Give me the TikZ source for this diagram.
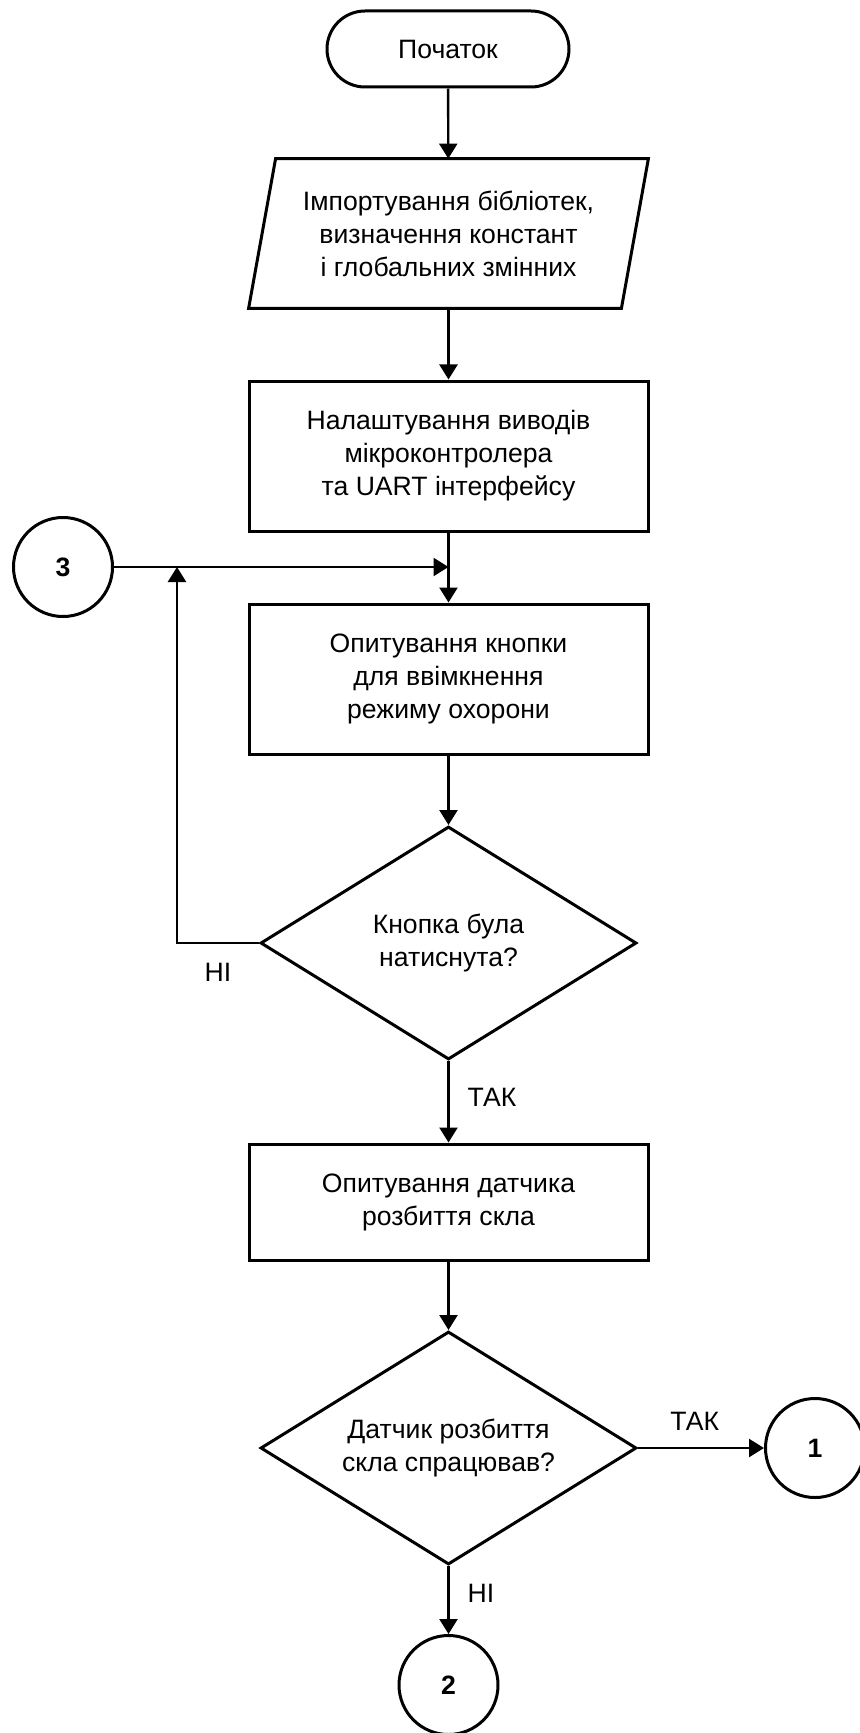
\documentclass[tikz,border=0pt]{standalone}
\usepackage{fontspec}
\setmainfont{Liberation Sans}
\usetikzlibrary{calc,shapes,arrows.meta}

\begin{document}
\begin{tikzpicture}[x=0.5pt,y=-0.5pt,
			>={Triangle[length=7.5pt,width=9pt]},
			every node/.style={font=\fontsize{13.3}{16.5}\selectfont},
			term/.style={rounded rectangle, draw, line width=1.5pt, minimum width=121pt, minimum height=38pt, inner sep=0pt},
			proc/.style={rectangle, draw, line width=1.5pt, minimum width=199.5pt, minimum height=75pt, align=center, inner sep=0pt},
			io/.style={rectangle, minimum width=199.5pt, minimum height=74.5pt, align=center, inner sep=0pt},
			dec/.style={diamond, draw, line width=1.5pt, minimum width=188pt, minimum height=116.5pt, align=center, inner sep=-15pt},
			conn/.style={circle, draw, line width=1.5pt, minimum size=49.5pt, inner sep=0pt, font=\fontsize{13.3}{15}\selectfont\bfseries},
			flow/.style={->, line width=1.2pt},
			lab/.style={inner sep=0pt}
				]
			\def\skew{13.5pt}
			\useasboundingbox (0,0) rectangle (859,1733);

			\node[term] (start) at (448,49) {Початок};
			\node[io] (libs) at (448.5,233.5) {Імпортування бібліотек,\\визначення констант\\і глобальних змінних};
			\draw[line width=1.5pt] ([xshift=\skew]libs.north west) -- (libs.north east) -- ([xshift=-\skew]libs.south east) -- (libs.south west) -- cycle;
			\node[proc] (pins) at (448.5,456) {Налаштування виводів\\мікроконтролера\\та UART інтерфейсу};
			\node[proc] (btn) at (448.5,679) {Опитування кнопки\\для ввімкнення\\режиму охорони};
			\node[dec] (qbtn) at (448.5,943) {Кнопка була\\натиснута?};
			\node[proc, minimum height=58pt] (glass) at (448.5,1202) {Опитування датчика\\розбиття скла};
			\node[dec] (qglass) at (448.5,1448) {Датчик розбиття\\скла спрацював?};

			\node[conn] (c3) at (63,567) {3};
			\node[conn] (c1) at (815,1448) {1};
			\node[conn] (c2) at (448.5,1685) {2};

			%top
			\draw[flow] (start) -- (libs);
			\draw[flow] (libs) -- (pins);
			\draw[flow] (pins) -- (btn);
			\coordinate (join) at (pins.south |- c3.east);
			\draw[flow] (c3) -- (join);
			\draw[flow] (btn) -- (qbtn);
			%button loop
			\draw[flow] (qbtn.west) -- node[lab, below=9.5pt] {НІ} ++(-82,0) coordinate (back) -- (back |- c3.east);
			\draw[flow] (qbtn) -- node[lab, right=9pt, pos=0.45] {ТАК} (glass);
			%glass sensor
			\draw[flow] (glass) -- (qglass);
			\draw[flow] (qglass) -- node[lab, above=8pt, pos=0.45] {ТАК} (c1);
			\draw[flow] (qglass) -- node[lab, right=9pt, pos=0.4] {НІ} (c2);
	\end{tikzpicture}
\end{document}
